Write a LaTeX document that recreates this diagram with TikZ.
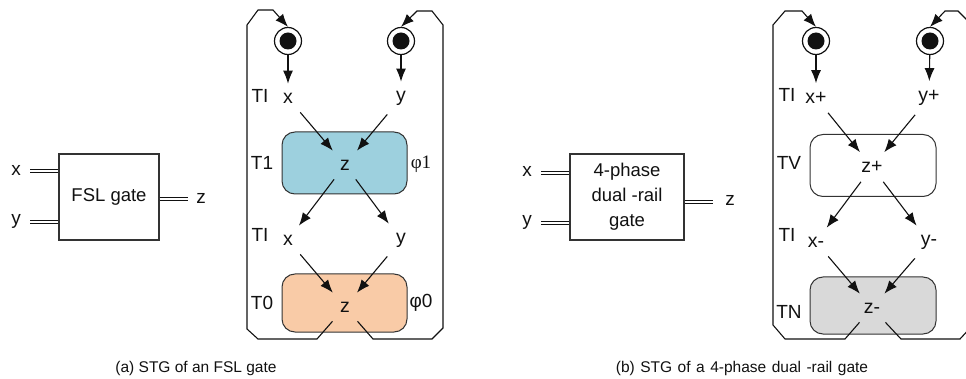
\documentclass[tikz,border=0pt]{standalone}
\usepackage{fontspec}
\setmainfont{Liberation Sans}
\newfontfamily\phifont{Liberation Serif}
\usepackage{tikz}
\usetikzlibrary{arrows.meta,positioning,calc}
\definecolor{stgInk}{HTML}{111111}
\definecolor{stgLine}{HTML}{333333}
\definecolor{stgBlue}{HTML}{9DD0DE}
\definecolor{stgPeach}{HTML}{F9CBA7}
\definecolor{stgGrey}{HTML}{D9D9D9}
\tikzset{
    >=Latex,
    gatebox/.style={draw=stgLine, line width=1.2pt, align=center, minimum width=100pt, minimum height=86pt, font=\fontsize{18.5}{25}\selectfont, text=stgInk},
    phase/.style={draw=stgLine, line width=1pt, rounded corners=13pt, minimum width=125pt, minimum height=60pt},
    place/.style={circle, draw=stgInk, line width=1.2pt, minimum size=27pt, inner sep=0pt, path picture={\fill[stgInk] (path picture bounding box.center) circle (8.5pt);}},
    sig/.style={font=\fontsize{19.5}{22}\selectfont, text=stgInk, inner sep=9pt},
    tname/.style={font=\fontsize{19}{22}\selectfont, text=stgInk, inner sep=0pt},
    pinlabel/.style={font=\fontsize{19}{22}\selectfont, text=stgInk, inner sep=0pt},
    caption/.style={font=\fontsize{15.5}{18}\selectfont, text=stgInk, inner sep=0pt},
    bus/.style={draw=stgInk, line width=1.1pt, double, double distance=2pt},
    arrow/.style={-{Latex[length=13pt,width=10pt]}, line width=1.1pt, draw=stgInk},
    loopline/.style={-{Latex[length=13pt,width=10pt]}, line width=1.1pt, draw=stgInk}
}
\begin{document}
\begin{tikzpicture}[x=1pt,y=-1pt]
\clip (0,0) rectangle (966,379);
% (a) FSL gate
\node[gatebox] (gateA) at (109,197) {FSL gate};
\node[pinlabel] (xlA) at (16,170) {x};
\node[pinlabel] (ylA) at (16,221) {y};
\node[pinlabel] (zlA) at (201,198) {z};
\coordinate (xwA) at (30,171); \coordinate (ywA) at (30,222); \coordinate (zwA) at (188,199);
\draw[bus] (xwA) -- (xwA -| gateA.west); \draw[bus] (ywA) -- (ywA -| gateA.west); \draw[bus] (zwA -| gateA.east) -- (zwA);

% (a) STG
\node[phase, fill=stgBlue, minimum height=62pt] (boxA1) at (344.5,163) {};
\node[phase, fill=stgPeach, minimum height=58pt] (boxA0) at (344.5,303) {};
\node[place] (pxA) at (288,41) {};
\node[place] (pyA) at (401,41) {};
\node[sig] (xA1) at (288,98) {x};
\node[sig] (yA1) at (401,98) {y};
\node[sig] (zA1) at (345,165) {z};
\node[sig] (xA0) at (288,240) {x};
\node[sig] (yA0) at (401,240) {y};
\node[sig] (zA0) at (345,307) {z};
\node[tname] (tiA1) at (260,96) {TI};
\node[tname] (tA1) at (262,163) {T1};
\node[tname] (tiA0) at (260,235) {TI};
\node[tname] (tA0) at (262,303) {T0};
\node[tname] (phA1) at (421,164) {\phifont φ1};
\node[tname] (phA0) at (421,303) {φ0};
\draw[arrow] (pxA)--(xA1); \draw[arrow] (pyA)--(yA1);
\draw[arrow] (xA1)--(zA1); \draw[arrow] (yA1)--(zA1);
\draw[arrow] (zA1)--(xA0); \draw[arrow] (zA1)--(yA0);
\draw[arrow] (xA0)--(zA0); \draw[arrow] (yA0)--(zA0);
\draw[loopline] (zA0) -- (317,339) -- (258,339) -- (247,329) -- (247,25) -- (258,10) -- (273,10) -- (pxA.north);
\draw[loopline] (zA0) -- (373,339) -- (432,339) -- (443,328) -- (443,25) -- (432,11) -- (417,11) -- (pyA.north);

% (b) 4-phase dual-rail gate
\node[gatebox, minimum width=114pt] (gateB) at (627,197) {4-phase\\dual -rail\\gate};
\node[pinlabel] (xlB) at (527,171) {x};
\node[pinlabel] (ylB) at (527,222) {y};
\node[pinlabel] (zlB) at (730,200) {z};
\coordinate (xwB) at (541,173); \coordinate (ywB) at (541,223); \coordinate (zwB) at (713,202);
\draw[bus] (xwB) -- (xwB -| gateB.west); \draw[bus] (ywB) -- (ywB -| gateB.west); \draw[bus] (zwB -| gateB.east) -- (zwB);

% (b) STG
\node[phase, fill=white, minimum width=126pt, minimum height=62pt] (boxB1) at (873,165.5) {};
\node[phase, fill=stgGrey, minimum width=126pt, minimum height=57pt] (boxB0) at (873,305.5) {};
\node[place] (pxB) at (816,41) {};
\node[place] (pyB) at (930,41) {};
\node[sig] (xB1) at (816,98) {x+};
\node[sig] (yB1) at (929,98) {y+};
\node[sig] (zB1) at (872,167) {z+};
\node[sig] (xB0) at (816,242) {x-};
\node[sig] (yB0) at (929,242) {y-};
\node[sig] (zB0) at (872,308) {z-};
\node[tname] (tiB1) at (787,95) {TI};
\node[tname] (tB1) at (789,163) {TV};
\node[tname] (tiB0) at (787,235) {TI};
\node[tname] (tB0) at (789,312) {TN};
\draw[arrow] (pxB)--(xB1); \draw[arrow] (pyB)--(yB1);
\draw[arrow] (xB1)--(zB1); \draw[arrow] (yB1)--(zB1);
\draw[arrow] (zB1)--(xB0); \draw[arrow] (zB1)--(yB0);
\draw[arrow] (xB0)--(zB0); \draw[arrow] (yB0)--(zB0);
\draw[loopline] (zB0) -- (845,339) -- (785,339) -- (773,325) -- (773,25) -- (785,11) -- (802,11) -- (pxB.north);
\draw[loopline] (zB0) -- (901,339) -- (960,339) -- (972,326) -- (972,25) -- (958,11) -- (945,11) -- (pyB.north);

% captions
\node[caption] (capA) at (196,368) {(a) STG of an FSL gate};
\node[caption] (capB) at (742,368) {\spaceskip=5.5pt (b) STG of a 4-phase dual -rail gate};
\end{tikzpicture}
\end{document}
